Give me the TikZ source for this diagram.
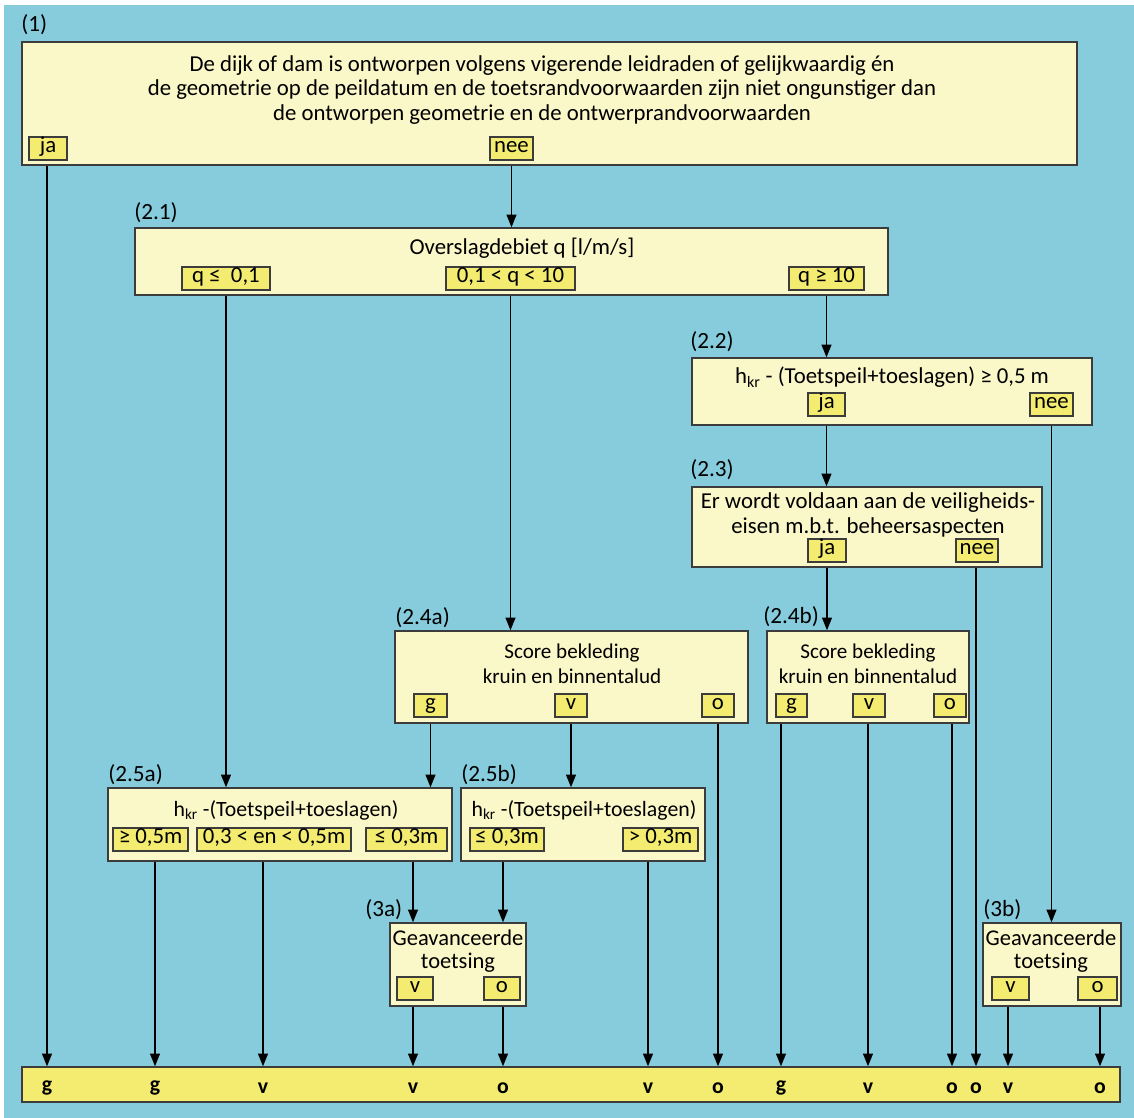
\documentclass[tikz,border=0pt]{standalone}
\usepackage{fontspec}
\setmainfont{Carlito}
\usetikzlibrary{fit,arrows.meta}
\definecolor{sea}{HTML}{86CCDC}
\definecolor{pale}{HTML}{FAF7C8}
\definecolor{lemon}{HTML}{F3EC70}
\definecolor{ink}{HTML}{3C3C3C}

\begin{document}
\begin{tikzpicture}[x=0.025cm, y=-0.025cm, font=\fontsize{16.2}{17.7}\selectfont,
    box/.style={draw=ink, line width=1pt, fill=pale, inner sep=0pt},
    tag/.style={draw=ink, line width=0.9pt, fill=lemon, inner sep=0pt, text height=0.75em, text depth=0.2em,
        minimum height=23*0.025cm, minimum width=#1*0.025cm},
    bar/.style={draw=ink, line width=1pt, fill=lemon, inner sep=0pt},
    txt/.style={align=center, inner sep=0pt},
    num/.style={anchor=west, inner sep=0pt, font=\fontsize{16.5}{18}\selectfont},
    res/.style={font=\fontsize{15.5}{17}\selectfont\bfseries, inner sep=0pt},
    arr/.style={line width=1pt, -{Triangle[length=9pt,width=7pt]}}]
\useasboundingbox (0,0) rectangle (1134,1118);
\fill[white] (0,0) rectangle (1134,1118);
\fill[sea] (4,5) rectangle (1134,1118);

\node[box, fit={(22,42) (1077,165)}] (b1) {};
\node[box, fit={(135,228) (888,295)}] (b21) {};
\node[box, fit={(692,358) (1092,425)}] (b22) {};
\node[box, fit={(692,487) (1042,567)}] (b23) {};
\node[box, fit={(395,631) (748,723)}] (b24a) {};
\node[box, fit={(767,631) (969,723)}] (b24b) {};
\node[box, fit={(108,788) (452,861)}] (b25a) {};
\node[box, fit={(461,788) (705,861)}] (b25b) {};
\node[box, fit={(390,923) (526,1006)}] (b3a) {};
\node[box, fit={(983,923) (1121,1006)}] (b3b) {};
\node[bar, fit={(22,1067) (1120,1102)}] (bar) {};

\node[num] (n1) at (21,25) {(1)};
\node[num] (n21) at (134,213) {(2.1)};
\node[num] (n22) at (690,342) {(2.2)};
\node[num] (n23) at (690,470) {(2.3)};
\node[num] (n24a) at (395,618) {(2.4a)};
\node[num] (n24b) at (763,617) {(2.4b)};
\node[num] (n25a) at (108,775) {(2.5a)};
\node[num] (n25b) at (461,775) {(2.5b)};
\node[num] (n3a) at (365,910) {(3a)};
\node[num] (n3b) at (983,910) {(3b)};

\node[txt] (x1) at (542,90) {De dijk of dam is ontworpen volgens vigerende leidraden of gelijkwaardig én\\
    de geometrie op de peildatum en de toetsrandvoorwaarden zijn niet ongunstiger dan\\
    de ontworpen geometrie en de ontwerprandvoorwaarden};
\node[txt] (x21) at (522,248) {Overslagdebiet q [l/m/s]};
\node[txt] (x22) at (892,377) {h\textsubscript{kr} - (Toetspeil+toeslagen) ≥ 0,5 m};
\node[txt] (x23) at (868,515) {Er wordt voldaan aan de veiligheids-\\eisen m.b.t. beheersaspecten};
\node[txt, font=\fontsize{15}{17.5}\selectfont] (x24a) at (572,664) {Score bekleding\\kruin en binnentalud};
\node[txt, font=\fontsize{15}{17.5}\selectfont] (x24b) at (868,664) {Score bekleding\\kruin en binnentalud};
\node[txt, font=\fontsize{15.5}{17}\selectfont] (x25a) at (286,810) {h\textsubscript{kr} -(Toetspeil+toeslagen)};
\node[txt, font=\fontsize{15.5}{17}\selectfont] (x25b) at (584,810) {h\textsubscript{kr} -(Toetspeil+toeslagen)};
\node[txt, font=\fontsize{16}{16}\selectfont] (x3a) at (458,951) {Geavanceerde\\toetsing};
\node[txt, font=\fontsize{16}{16}\selectfont] (x3b) at (1051,951) {Geavanceerde\\toetsing};

\node[tag=38] (t1ja) at (48,148.5) {ja};
\node[tag=43] (t1nee) at (511.5,148.5) {nee};
\node[tag=88] (t21a) at (226,278.5) {q ≤\ \ 0,1};
\node[tag=129] (t21b) at (510.5,278.5) {0,1 < q < 10};
\node[tag=75] (t21c) at (826.5,278.5) {q ≥ 10};
\node[tag=37] (t22ja) at (826.5,404.5) {ja};
\node[tag=43] (t22nee) at (1051.5,404.5) {nee};
\node[tag=38] (t23ja) at (827,550.5) {ja};
\node[tag=42] (t23nee) at (977,550.5) {nee};
\node[tag=33] (t24ag) at (430.5,705.5) {g};
\node[tag=32] (t24av) at (571,705.5) {v};
\node[tag=32] (t24ao) at (718,705.5) {o};
\node[tag=31] (t24bg) at (791.5,705.5) {g};
\node[tag=32] (t24bv) at (869,705.5) {v};
\node[tag=32] (t24bo) at (950,705.5) {o};
\node[tag=75] (t25aa) at (150.5,839.5) {≥ 0,5m};
\node[tag=154] (t25ab) at (274,839.5) {0,3 < en < 0,5m};
\node[tag=81] (t25ac) at (406.5,839.5) {≤ 0,3m};
\node[tag=74] (t25ba) at (507,839.5) {≤ 0,3m};
\node[tag=75] (t25bb) at (660.5,839.5) {> 0,3m};
\node[tag=36] (t3av) at (415,988.5) {v};
\node[tag=36] (t3ao) at (502,988.5) {o};
\node[tag=37] (t3bv) at (1010.5,988.5) {v};
\node[tag=39] (t3bo) at (1097.5,988.5) {o};

\node[res] (r1) at (47,1088) {g};
\node[res] (r2) at (155,1088) {g};
\node[res] (r3) at (263,1088) {v};
\node[res] (r4) at (413,1088) {v};
\node[res] (r5) at (503,1088) {o};
\node[res] (r6) at (648,1088) {v};
\node[res] (r7) at (718,1088) {o};
\node[res] (r8) at (781,1088) {g};
\node[res] (r9) at (868,1088) {v};
\node[res] (r10) at (952,1088) {o};
\node[res] (r11) at (976,1088) {o};
\node[res] (r12) at (1008,1088) {v};
\node[res] (r13) at (1100,1088) {o};

\draw[arr] (r1 |- b1.south) -- (r1 |- bar.north);
\draw[arr] (t1nee |- b1.south) -- (t1nee |- b21.north);
\draw[arr] (t21a |- b21.south) -- (t21a |- b25a.north);
\draw[arr] (t21b |- b21.south) -- (t21b |- b24a.north);
\draw[arr] (t21c |- b21.south) -- (t21c |- b22.north);
\draw[arr] (t22ja |- b22.south) -- (t22ja |- b23.north);
\draw[arr] (t22nee |- b22.south) -- (t22nee |- b3b.north);
\draw[arr] (t23ja |- b23.south) -- (t23ja |- b24b.north);
\draw[arr] (r11 |- b23.south) -- (r11 |- bar.north);
\draw[arr] (t24ag |- b24a.south) -- (t24ag |- b25a.north);
\draw[arr] (t24av |- b24a.south) -- (t24av |- b25b.north);
\draw[arr] (r7 |- b24a.south) -- (r7 |- bar.north);
\foreach \r in {r8,r9,r10}
    \draw[arr] (\r |- b24b.south) -- (\r |- bar.north);
\foreach \r in {r2,r3}
    \draw[arr] (\r |- b25a.south) -- (\r |- bar.north);
\draw[arr] (r4 |- b25a.south) -- (r4 |- b3a.north);
\draw[arr] (r5 |- b25b.south) -- (r5 |- b3a.north);
\draw[arr] (r6 |- b25b.south) -- (r6 |- bar.north);
\foreach \r in {r4,r5}
    \draw[arr] (\r |- b3a.south) -- (\r |- bar.north);
\foreach \r in {r12,r13}
    \draw[arr] (\r |- b3b.south) -- (\r |- bar.north);
\end{tikzpicture}
\end{document}
